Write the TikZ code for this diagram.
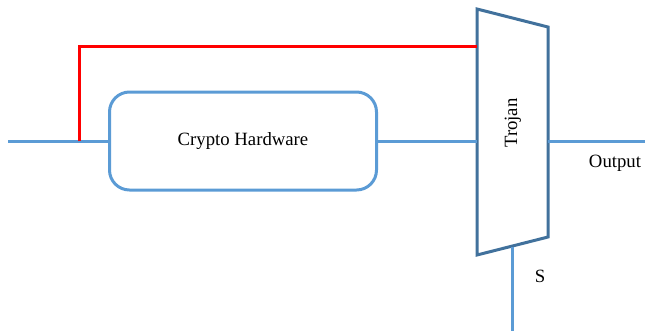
\documentclass[tikz,border=0pt]{standalone}
\usepackage{fontspec}
\setmainfont{Liberation Serif}
\begin{document}
\begin{tikzpicture}[x=1bp,y=-1bp,
  wire/.style={draw=wireblue,line width=3bp},
  redwire/.style={draw=red,line width=3bp},
  hwbox/.style={draw=wireblue,line width=3bp,rounded corners=20bp,minimum width=267bp,minimum height=98bp,inner sep=0pt,font=\fontsize{18.8}{22}\selectfont},
  lbl/.style={font=\fontsize{18.8}{22}\selectfont,inner sep=0pt}]
\definecolor{wireblue}{HTML}{5B9BD5}
\definecolor{trojblue}{HTML}{41719C}
\useasboundingbox (0,0) rectangle (645,333);
\coordinate (in) at (8,141);
\coordinate (tap) at (79,141);
\node[hwbox] (hw) at (243,141) {Crypto Hardware};
\coordinate (tl) at (477,9);
\coordinate (tr) at (548,27);
\coordinate (br) at (548,237);
\coordinate (bl) at (477,255);
\coordinate (tin) at (477,141);
\coordinate (tred) at (477,46);
\coordinate (tout) at (548,141);
\coordinate (out) at (645,141);
\coordinate (sb) at (512,246.5);
\coordinate (send) at (512,331);
\draw[draw=trojblue,line width=3bp,line join=miter] (tl) -- (tr) -- (br) -- (bl) -- cycle;
\node[lbl,rotate=90] (troj) at (513,123) {Trojan};
\draw[wire] (in) -- (hw.west);
\draw[wire] (hw.east) -- (tin);
\draw[wire] (tout) -- (out);
\draw[wire] (sb) -- (send);
\draw[redwire] (tap) |- (tred);
\node[lbl] (outlbl) at (615,163) {Output};
\node[lbl] (slbl) at (540,276) {S};
\end{tikzpicture}
\end{document}
